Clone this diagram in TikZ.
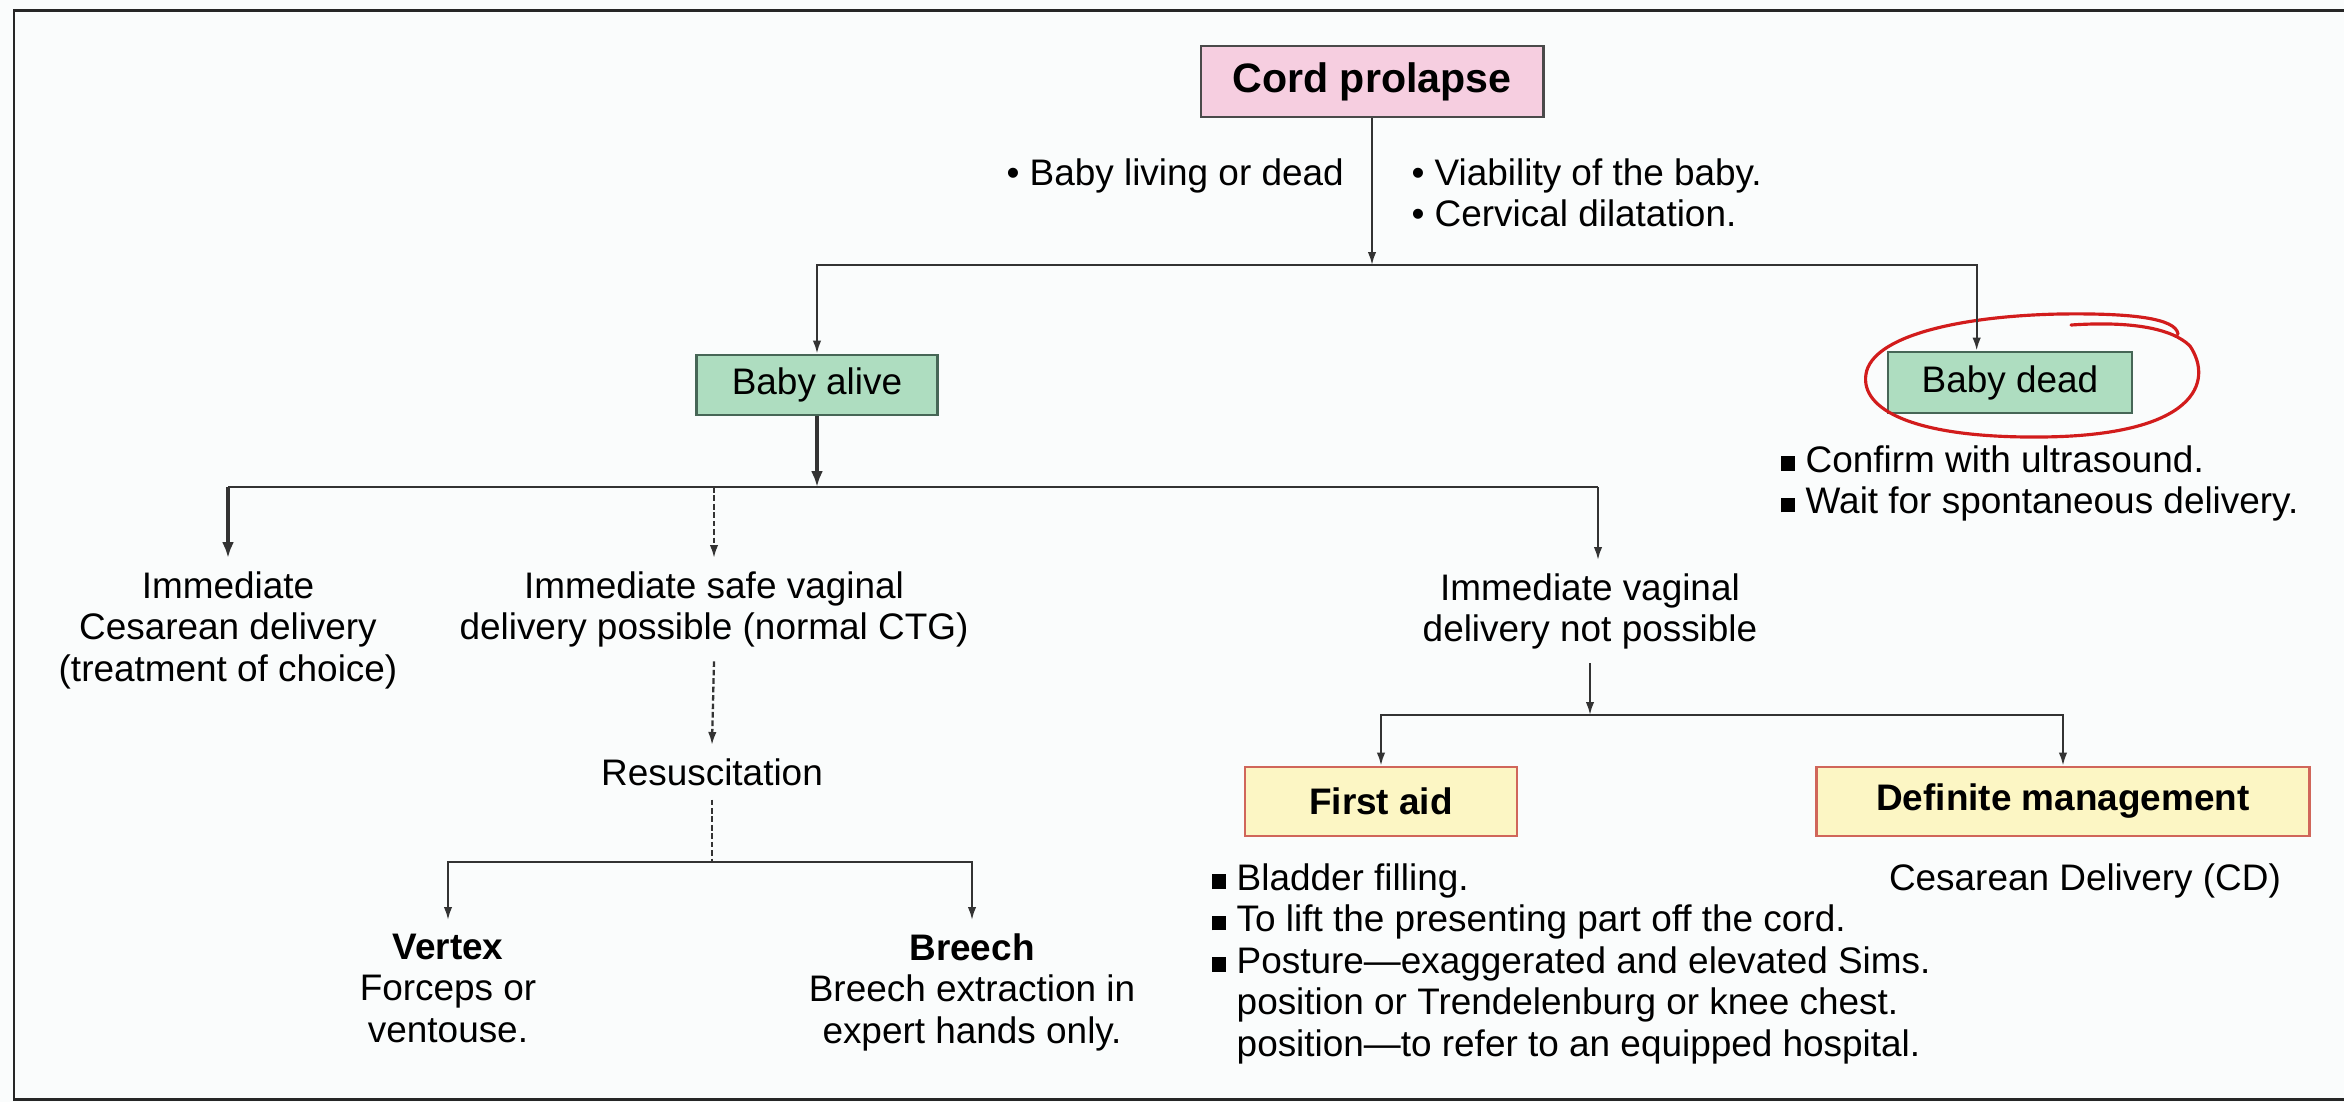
\documentclass[tikz,border=0pt]{standalone}
\usepackage{fontspec}
\setmainfont{Liberation Sans}
\usetikzlibrary{arrows.meta,calc}
\definecolor{bgc}{HTML}{FAFCFC}
\definecolor{lnc}{HTML}{333333}
\definecolor{bxc}{HTML}{4A4A4A}
\definecolor{pinkf}{HTML}{F6CEE0}
\definecolor{greenf}{HTML}{AEDDC0}
\definecolor{greenb}{HTML}{466656}
\definecolor{yellf}{HTML}{FCF6C4}
\definecolor{yellb}{HTML}{D0665A}
\definecolor{redpen}{HTML}{D21C1C}
\newcommand\myBody{\fontsize{10.5}{11.8}\selectfont}
\newcommand\myTitle{\fontsize{11.7}{14}\selectfont\bfseries}
\newcommand\rb{\makebox[0.23cm][l]{\textbullet}}
\newcommand\sqb{\makebox[0.25cm][l]{\rule[0.04em]{0.4em}{0.4em}}}
\newcommand\sqsp{\hspace*{0.25cm}}
\begin{document}
\begin{tikzpicture}[x=0.01cm,y=-0.01cm,
  line/.style={draw=lnc, line width=0.6pt},
  arr/.style={line, -{Latex[length=0.13cm,width=0.085cm]}},
  thickarr/.style={draw=lnc, line width=1.2pt, -{Latex[length=0.16cm,width=0.12cm]}},
  dashln/.style={line, line width=0.65pt, dash pattern=on 1.6pt off 0.8pt},
  dasharr/.style={arr, line width=0.65pt, dash pattern=on 1.6pt off 0.8pt},
  box/.style={draw=bxc, line width=0.8pt, inner sep=0pt, font=\myBody},
  pinkbox/.style={box, fill=pinkf, minimum width=3.42cm, minimum height=0.71cm, font=\myTitle},
  greenbox/.style={box, draw=greenb, fill=greenf, minimum width=2.41cm, minimum height=0.6cm},
  yellowbox/.style={box, draw=yellb, fill=yellf},
  txt/.style={inner xsep=0pt, inner ysep=0.13cm, align=center, font=\myBody},
  plain/.style={inner sep=0pt, align=left, font=\myBody},
  frame/.style={draw=black!85, line width=0.85pt},
  pen/.style={draw=redpen, line width=0.9pt, line cap=round, line join=round}
]
\useasboundingbox (0,0) rectangle (2344,1102);
\fill[bgc] (0,0) rectangle (2344,1102);
\draw[frame] (2344,10) -- (14,10) -- (14,1099) -- (2344,1099);

% top
\node[pinkbox] (cord) at (1372,81.5) {Cord prolapse};
\node[plain, anchor=base west] (q1) at (1006,185) {\rb Baby living or dead};
\node[plain, anchor=north west] (q2) at (1411,158) {\rb Viability of the baby.\\ \rb Cervical dilatation.};
\coordinate (j1) at (1372,265);

\node[greenbox] (alive) at (817,385) {Baby alive};
\node[greenbox, minimum width=2.44cm, minimum height=0.61cm] (dead) at (2010,382.5) {Baby dead};
\node[plain, anchor=north west] (deadtxt) at (1780,445) {\sqb Confirm with ultrasound.\\ \sqb Wait for spontaneous delivery.};

% red hand-drawn ring
\draw[pen] (2071,325) .. controls (2130,321) and (2172,328) .. (2190,346)
  .. controls (2214,382) and (2196,436) .. (2040,437)
  .. controls (1915,438) and (1860,410) .. (1866,374)
  .. controls (1872,336) and (1960,316) .. (2060,314)
  .. controls (2130,313) and (2176,318) .. (2178,334);

% second level
\coordinate (j2) at (817,487);
\node[txt, anchor=north] (ces) at (228,558) {Immediate\\Cesarean delivery\\(treatment of choice)};
\node[txt, anchor=north] (safe) at (714,558) {Immediate safe vaginal\\delivery possible (normal CTG)};
\node[txt, anchor=north] (notp) at (1590,560) {Immediate vaginal\\delivery not possible};
\coordinate (np) at ([xshift=0.08cm]notp.north);

\node[txt, anchor=north] (resus) at (712,745) {Resuscitation};
\coordinate (j3) at (712,862);
\node[txt, anchor=north] (vertex) at (448,920) {\textbf{Vertex}\\Forceps or\\ventouse.};
\node[txt, anchor=north] (breech) at (972,920) {\textbf{Breech}\\Breech extraction in\\expert hands only.};

\coordinate (h4) at (0,715);
\node[yellowbox, minimum width=2.72cm, minimum height=0.69cm] (first) at (1381,801.5) {\textbf{First aid}};
\node[yellowbox, minimum width=4.92cm, minimum height=0.69cm] (defm) at (2063,801.5) {\raisebox{0.04cm}{\textbf{Definite management}}};
\node[plain, anchor=base] (cd) at (2085,890) {Cesarean Delivery (CD)};
\node[plain, anchor=north west] (fatxt) at (1211,863) {\sqb Bladder filling.\\ \sqb To lift the presenting part off the cord.\\ \sqb Posture—exaggerated and elevated Sims.\\ \sqsp position or Trendelenburg or knee chest.\\ \sqsp position—to refer to an equipped hospital.};

% connectors
\draw[arr] (cord.south) -- (j1);
\draw[arr] (j1) -| (alive.north);
\draw[arr] (j1) -| ($(dead.north west)!0.365!(dead.north east)$);
\draw[thickarr] (alive.south) -- (j2);
\draw[line] (ces.north |- j2) -- (np |- j2);
\draw[thickarr] (ces.north |- j2) -- (ces.north);
\draw[dasharr] (safe.north |- j2) -- (safe.north);
\draw[arr] (np |- j2) -- (np);
\draw[dasharr] (safe.south) -- (resus.north);
\draw[dashln] (resus.south) -- (j3);
\draw[arr] (j3) -| (vertex.north);
\draw[arr] (j3) -| (breech.north);
\draw[arr] (notp.south) -- (notp.south |- h4);
\draw[arr] (notp.south |- h4) -| (first.north);
\draw[arr] (notp.south |- h4) -| (defm.north);
\end{tikzpicture}
\end{document}
